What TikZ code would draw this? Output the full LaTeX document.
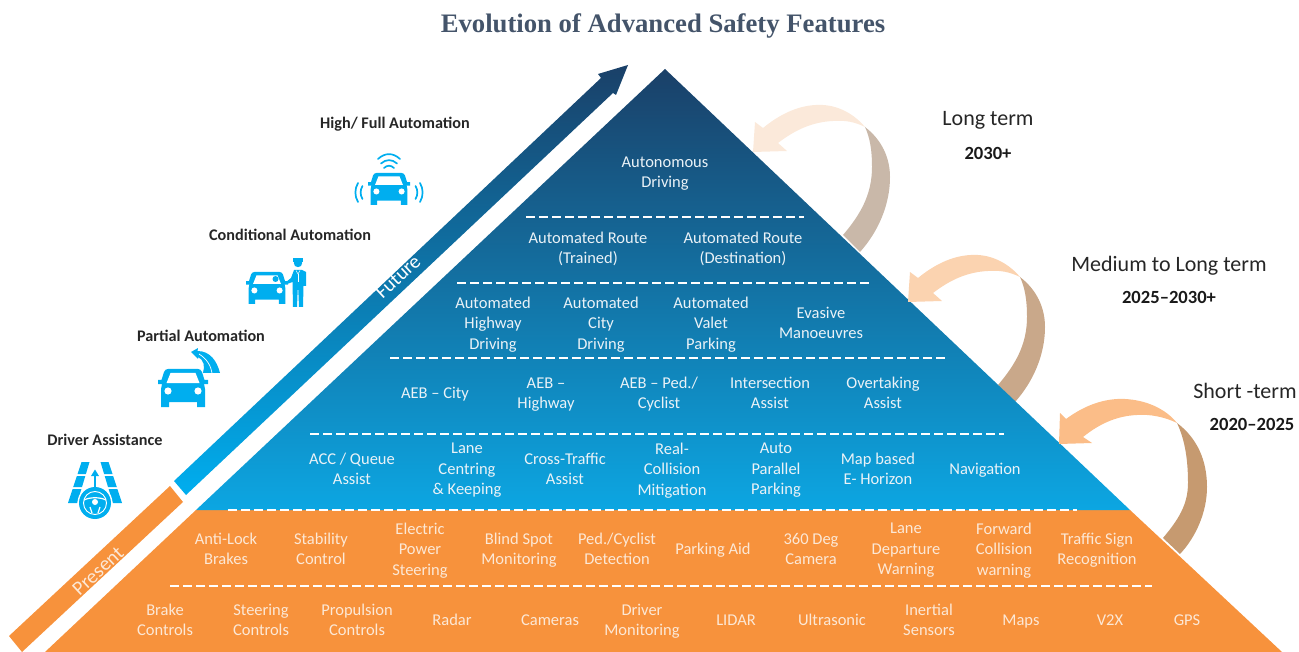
\documentclass[tikz,border=0pt]{standalone}
\usepackage{fontspec}
\setmainfont{Carlito}
\newfontfamily\ttlfont{Liberation Serif}
\definecolor{iconblue}{HTML}{00AEEF}
\definecolor{pyrtop}{HTML}{1A4068}
\definecolor{pyrbot}{HTML}{0CA6E2}
\definecolor{orng}{HTML}{F7923C}
\definecolor{wtxt}{HTML}{EAF2F7}
\definecolor{otxt}{HTML}{FCE8D6}
\definecolor{HTMLtitle}{HTML}{44546A}
\definecolor{HTMLbandm}{HTML}{1186BF}
\definecolor{HTMLlongd}{HTML}{C9B8A9}
\definecolor{HTMLlongl}{HTML}{FBE9DA}
\definecolor{HTMLmedd}{HTML}{C9A88A}
\definecolor{HTMLmedl}{HTML}{FBD3B0}
\definecolor{HTMLshortd}{HTML}{C69A70}
\definecolor{HTMLshortl}{HTML}{FBBD88}
\newcommand{\linestrut}{\rule[-4pt]{0pt}{15pt}}
\tikzset{
  wt/.style={inner sep=0pt,align=center,text=wtxt,yshift=-2pt,font=\fontsize{16.5}{20.5}\selectfont,
    execute at begin node=\linestrut,execute at end node=\linestrut},
  ot/.style={inner sep=0pt,align=center,text=otxt,yshift=-2pt,font=\fontsize{16.5}{20.5}\selectfont,
    execute at begin node=\linestrut,execute at end node=\linestrut},
  lvl/.style={inner sep=0pt,text=black!85,font=\bfseries\fontsize{16.2}{18}\selectfont},
  term/.style={inner sep=0pt,text=black!85,font=\fontsize{22}{24}\selectfont},
  yrs/.style={inner sep=0pt,text=black!90,font=\bfseries\fontsize{18.6}{21}\selectfont},
  sep/.style={white,line width=1.6pt,dash pattern=on 9pt off 4pt},
  iconf/.style={fill=iconblue,draw=none},
  hole/.style={fill=white,draw=none},
  wave/.style={iconblue,line width=1.7pt,line cap=round}
}
\newcommand{\carbody}{%
  \fill[iconf] (-15,0) -- (15,0) .. controls (17,0) and (18,1) .. (19,3) -- (21.5,11) -- (25,11) -- (25,15) -- (21,15)
    -- (22,20) -- (22,38) -- (14,38) -- (14,33) -- (-14,33) -- (-14,38) -- (-22,38) -- (-22,20) -- (-21,15) -- (-25,15) -- (-25,11) -- (-21.5,11)
    -- (-19,3) .. controls (-18,1) and (-17,0) .. (-15,0) -- cycle;
  \fill[hole] (-12.5,4) -- (12.5,4) -- (16.5,14) -- (-16.5,14) -- cycle;
  \fill[hole] (-15,22) circle (3.6);
  \fill[hole] (15,22) circle (3.6);
}
\newcommand{\termarrow}[1]{%
  \fill[#1] (753,152) -- (755,122) -- (763,128) .. controls (785,110) and (805,104) .. (823,105) .. controls (840,106) and (855,115) .. (865,127)
    .. controls (855,122) and (845,120) .. (833,121) .. controls (812,122) and (795,130) .. (778,143) -- (787,151) -- cycle;
}
\newcommand{\termtail}[1]{%
  \fill[#1] (865,127) .. controls (882,140) and (890,158) .. (890,177) .. controls (890,205) and (878,232) .. (860,252) -- (843,235)
    .. controls (860,215) and (872,195) .. (872,167) .. controls (872,150) and (870,138) .. (865,127) -- cycle;
}
\begin{document}
\begin{tikzpicture}[x=1pt,y=-1pt]
\useasboundingbox (0,0) rectangle (1299,652);
\clip (0,0) rectangle (1299,652);

% title
\node[inner sep=0pt,text=HTMLtitle] (title) at (663,26) {\ttlfont\bfseries\fontsize{26.7}{30}\selectfont Evolution of Advanced Safety Features};

% curved arrows: tails behind the pyramid
\termtail{HTMLlongd}
\begin{scope}[shift={(155,150)}]\termtail{HTMLmedd}\end{scope}
\fill[HTMLshortd] (1177,423) .. controls (1197,438) and (1207,460) .. (1207,487) .. controls (1207,512) and (1196,537) .. (1180,554) -- (1163,538)
  .. controls (1178,520) and (1188,505) .. (1188,483) .. controls (1188,460) and (1185,440) .. (1177,423) -- cycle;

% pyramid
\fill[orng] (196,510) -- (1130,510) -- (1282,652) -- (45,652) -- cycle;
\shade[top color=pyrtop,bottom color=pyrbot] (665,69) -- (1130,510) -- (196,510) -- cycle;

% curved arrow heads
\termarrow{HTMLlongl}
\begin{scope}[shift={(155,150)}]\termarrow{HTMLmedl}\end{scope}
\fill[HTMLshortl] (1059,444) -- (1060,413) -- (1066,419) .. controls (1085,405) and (1105,398) .. (1125,399) .. controls (1145,400) and (1165,408) .. (1177,423)
  .. controls (1165,417) and (1150,414) .. (1137,415) .. controls (1115,416) and (1098,425) .. (1083,437) -- (1092,443) -- cycle;

% timeline band
\fill[orng] (9,636) -- (170,486) -- (183,502) -- (22,652) -- cycle;
\shade[top color=pyrtop,middle color=HTMLbandm,bottom color=iconblue]
  (174,481) -- (601,78) -- (598,74) -- (628,65) -- (616,95) -- (613,93) -- (186,495) -- cycle;
\node[inner sep=0pt,text=white,rotate=43,font=\fontsize{20}{22}\selectfont] (future) at (398,277) {Future};
\node[inner sep=0pt,text=otxt,rotate=43,font=\fontsize{20}{22}\selectfont] (present) at (98,571) {Present};

% separators
\coordinate (s1a) at (526,217); \coordinate (s1b) at (804,217);
\coordinate (s2a) at (457,283); \coordinate (s2b) at (870,283);
\coordinate (s3a) at (390,358); \coordinate (s3b) at (948,358);
\coordinate (s4a) at (310,434); \coordinate (s4b) at (1004,434);
\coordinate (s5a) at (228,510); \coordinate (s5b) at (1077,510);
\coordinate (s6a) at (170,586); \coordinate (s6b) at (1152,586);
\draw[sep] (s1a) -- (s1b);
\draw[sep] (s2a) -- (s2b);
\draw[sep] (s3a) -- (s3b);
\draw[sep] (s4a) -- (s4b);
\draw[sep] (s5a) -- (s5b);
\draw[sep] (s6a) -- (s6b);

% pyramid texts
\node[wt] (a1) at (665,172) {Autonomous\\Driving};
\node[wt] (b1) at (588,248) {Automated Route\\(Trained)};
\node[wt] (b2) at (743,248) {Automated Route\\(Destination)};
\node[wt] (c1) at (493,323) {Automated\\Highway\\Driving};
\node[wt] (c2) at (601,323) {Automated\\City\\Driving};
\node[wt] (c3) at (711,323) {Automated\\Valet\\Parking};
\node[wt] (c4) at (821,323) {Evasive\\Manoeuvres};
\node[wt] (d1) at (435,393) {AEB – City};
\node[wt] (d2) at (546,393) {AEB –\\Highway};
\node[wt] (d3) at (659,393) {AEB – Ped./\\Cyclist};
\node[wt] (d4) at (770,393) {Intersection\\Assist};
\node[wt] (d5) at (883,393) {Overtaking\\Assist};
\node[wt] (e1) at (352,469) {ACC / Queue\\Assist};
\node[wt] (e2) at (467,469) {Lane\\Centring\\\& Keeping};
\node[wt] (e3) at (565,469) {Cross-Traffic\\Assist};
\node[wt] (e4) at (672,469) {Real-\\Collision\\Mitigation};
\node[wt] (e5) at (776,469) {Auto\\Parallel\\Parking};
\node[wt] (e6) at (878,469) {Map based\\E- Horizon};
\node[wt] (e7) at (985,469) {Navigation};
\node[ot] (f1) at (226,549) {Anti-Lock\\Brakes};
\node[ot] (f2) at (321,549) {Stability\\Control};
\node[ot] (f3) at (420,549) {Electric\\Power\\Steering};
\node[ot] (f4) at (519,549) {Blind Spot\\Monitoring};
\node[ot] (f5) at (617,549) {Ped./Cyclist\\Detection};
\node[ot] (f6) at (713,549) {Parking Aid};
\node[ot] (f7) at (811,549) {360 Deg\\Camera};
\node[ot] (f8) at (906,549) {Lane\\Departure\\Warning};
\node[ot] (f9) at (1004,549) {Forward\\Collision\\warning};
\node[ot] (f10) at (1097,549) {Traffic Sign\\Recognition};
\node[ot] (g1) at (165,620) {Brake\\Controls};
\node[ot] (g2) at (261,620) {Steering\\Controls};
\node[ot] (g3) at (357,620) {Propulsion\\Controls};
\node[ot] (g4) at (452,620) {Radar};
\node[ot] (g5) at (550,620) {Cameras};
\node[ot] (g6) at (642,620) {Driver\\Monitoring};
\node[ot] (g7) at (736,620) {LIDAR};
\node[ot] (g8) at (832,620) {Ultrasonic};
\node[ot] (g9) at (929,620) {Inertial\\Sensors};
\node[ot] (g10) at (1021,620) {Maps};
\node[ot] (g11) at (1110,620) {V2X};
\node[ot] (g12) at (1187,620) {GPS};

% level labels
\node[lvl] (l1) at (395,124) {High/ Full Automation};
\node[lvl] (l2) at (290,235) {Conditional Automation};
\node[lvl] (l3) at (201,336) {Partial Automation};
\node[lvl] (l4) at (105,440) {Driver Assistance};

% term labels
\node[term] (t1) at (988,120) {Long term};
\node[yrs] (y1) at (988,153) {2030+};
\node[term] (t2) at (1169,266) {Medium to Long term};
\node[yrs] (y2) at (1169,297) {2025–2030+};
\node[term] (t3) at (1245,391) {Short -term};
\node[yrs] (y3) at (1252,424) {2020–2025};

% icon: high / full automation
\begin{scope}[shift={(389,173)},scale=0.84]\carbody\end{scope}
\draw[wave] (384,168) .. controls (387,165) and (391,165) .. (394,168);
\draw[wave] (381,163.5) .. controls (386,159) and (392,159) .. (397,163.5);
\draw[wave] (378,159) .. controls (385,152.5) and (393,152.5) .. (400,159);
\draw[wave] (362.5,186) .. controls (360,190) and (360,195) .. (362.5,199);
\draw[wave] (358,183) .. controls (354.5,189) and (354.5,196) .. (358,202);
\draw[wave] (415.5,186) .. controls (418,190) and (418,195) .. (415.5,199);
\draw[wave] (420,183) .. controls (423.5,189) and (423.5,196) .. (420,202);

% icon: conditional automation
\begin{scope}[shift={(267,272)},scale=0.84]\carbody\end{scope}
\fill[iconf] (275.5,279) circle (3);
\fill[iconf] (298,263) circle (4.2);
\fill[iconf] (293,258.5) rectangle (303,262);
\fill[iconf] (294,270) -- (302,270) -- (306,272) -- (306,286) -- (303.5,286) -- (303,307) -- (299,307) -- (298.3,290) -- (297.7,290) -- (297,307) -- (293,307) -- (292.5,282) -- (287,284) -- (286,282) -- (291,278) -- cycle;
\draw[white,line width=0.5pt] (296,270.5) -- (298,274) -- (300,270.5);
\draw[white,line width=0.5pt] (298,274) -- (298,282);

% icon: partial automation
\begin{scope}[shift={(183,369)}]\carbody\end{scope}
\fill[iconf] (191,352) -- (198,348) -- (197.5,351) .. controls (210,351) and (217,361) .. (220,373) -- (203,373) .. controls (205,366) and (204,360) .. (198,357) -- (198,359) -- cycle;
\draw[white,line width=0.7pt] (212,373) .. controls (211,366) and (207,359) .. (199,354);

% icon: driver assistance
\fill[iconf] (81.5,462) -- (89.5,462) -- (85.9,474) -- (77.5,474) -- cycle;
\fill[iconf] (76.9,476) -- (85.3,476) -- (82,487) -- (73.2,487) -- cycle;
\fill[iconf] (72.6,489) -- (81.4,489) -- (77.2,503) -- (68,503) -- cycle;
\fill[iconf] (108.5,462) -- (100.5,462) -- (104.1,474) -- (112.5,474) -- cycle;
\fill[iconf] (113.1,476) -- (104.7,476) -- (108,487) -- (116.8,487) -- cycle;
\fill[iconf] (117.4,489) -- (108.6,489) -- (112.8,503) -- (122,503) -- cycle;
\fill[white] (95,503) circle (17.5);
\fill[iconf] (95,503) circle (16);
\draw[white,line width=0.9pt] (95,503) circle (11.5);
\draw[white,line width=1.2pt] (84,500) .. controls (90,497) and (100,497) .. (106,500);
\draw[white,line width=1.2pt] (90,507) -- (92,513);
\draw[white,line width=1.2pt] (100,507) -- (98,513);
\fill[white] (95,502) circle (3);
\draw[iconblue,line width=1.2pt] (95,487) -- (95,474);
\fill[iconf] (95,469.5) -- (99,476) -- (91,476) -- cycle;
\end{tikzpicture}
\end{document}
